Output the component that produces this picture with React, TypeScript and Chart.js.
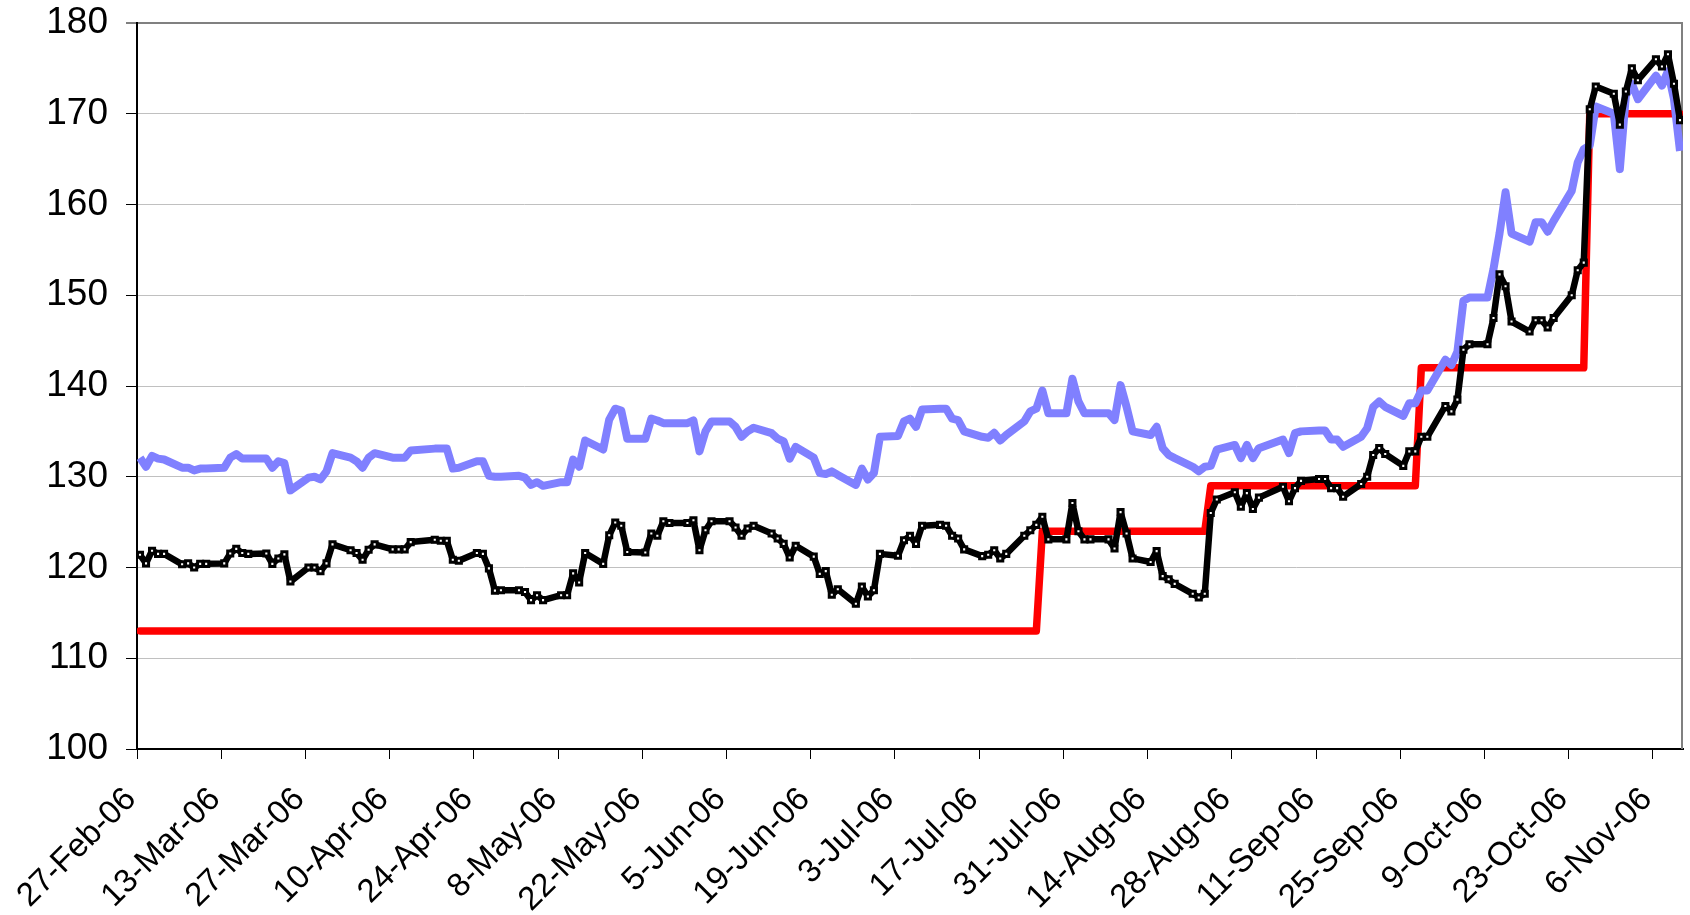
import React, { useEffect, useRef } from 'react';
import { Chart, registerables } from 'chart.js';

Chart.register(...registerables);

// X-axis tick labels (one every 14 calendar days, starting 27-Feb-06)
const tickLabels = [
  '27-Feb-06', '13-Mar-06', '27-Mar-06', '10-Apr-06', '24-Apr-06', '8-May-06',
  '22-May-06', '5-Jun-06', '19-Jun-06', '3-Jul-06', '17-Jul-06', '31-Jul-06',
  '14-Aug-06', '28-Aug-06', '11-Sep-06', '25-Sep-06', '9-Oct-06', '23-Oct-06', '6-Nov-06',
];
const TICK_STEP_DAYS = 14;
const AXIS_DAYS = 257; // 27-Feb-06 .. 10-Nov-06 inclusive
const WEEKS = 37;

// Business-day series (Mon..Fri per week, from 27-Feb-06); null = market holiday
const blackSeries: (number | null)[] = [
  121.4, 120.45, 121.85, 121.5, 121.5,
  120.35, 120.45, 120.0, 120.4, 120.4,
  120.45, 121.55, 122.05, 121.6, 121.5,
  121.55, 120.4, 121.0, 121.45, 118.45,
  120.0, 120.0, 119.6, 120.45, 122.55,
  121.9, 121.6, 120.85, 121.95, 122.55,
  122.0, 122.0, 122.0, 122.8, null,
  123.05, 122.95, 122.95, 120.85, 120.75,
  121.6, 121.5, 119.9, 117.45, 117.5,
  117.5, 117.3, 116.4, 116.95, 116.4,
  116.95, 116.95, 119.35, 118.35, 121.6,
  120.4, 123.55, 124.95, 124.6, 121.7,
  121.65, 123.75, 123.5, 125.1, 124.9,
  124.9, 125.2, 121.9, 124.1, 125.1,
  125.1, 124.4, 123.5, 124.3, 124.6,
  123.75, 123.2, 122.6, 121.1, 122.4,
  121.2, 119.3, 119.6, 117.0, 117.6,
  116.0, 117.9, 116.8, 117.5, 121.5,
  121.3, 123.0, 123.5, 122.6, 124.6,
  124.7, 124.6, 123.5, 123.2, 122.0,
  121.25, 121.4, 121.9, 121.0, 121.5,
  123.5, 124.1, 124.7, 125.6, 123.1,
  123.1, 127.1, 124.0, 123.1, 123.1,
  123.1, 122.1, 126.1, 123.75, 121.0,
  120.6, 121.8, 119.05, 118.7, 118.2,
  117.1, 116.7, 117.1, 126.0, 127.5,
  128.3, 126.7, 128.2, 126.45, 127.7,
  null, 128.9, 127.3, 128.75, 129.55,
  129.75, 129.75, 128.75, 128.75, 127.8,
  129.2, 130.0, 132.4, 133.15, 132.5,
  131.2, 132.8, 132.8, 134.4, 134.4,
  137.8, 137.2, 138.5, 144.0, 144.6,
  144.6, 147.5, 152.3, 151.0, 147.1,
  146.0, 147.25, 147.25, 146.45, 147.5,
  150.0, 152.75, 153.6, 170.5, 173.0,
  172.2, 168.8, 172.45, 175.0, 173.7,
  176.0, 175.2, 176.55, 173.3, 169.3,
];

const blueSeries: (number | null)[] = [
  132.1, 131.1, 132.3, 132.0, 131.9,
  131.0, 131.0, 130.7, 130.9, 130.9,
  131.0, 132.1, 132.5, 132.0, 132.0,
  132.0, 131.0, 131.7, 131.5, 128.5,
  129.9, 130.0, 129.7, 130.6, 132.6,
  132.1, 131.7, 131.0, 132.1, 132.6,
  132.1, 132.1, 132.1, 132.9, null,
  133.1, 133.1, 133.1, 130.9, 131.0,
  131.7, 131.7, 130.1, 130.0, 130.0,
  130.1, 129.9, 129.1, 129.4, 129.0,
  129.4, 129.4, 131.9, 131.1, 134.0,
  133.0, 136.3, 137.5, 137.3, 134.2,
  134.2, 136.4, 136.2, 135.9, 135.9,
  135.9, 136.2, 132.8, 135.0, 136.1,
  136.1, 135.5, 134.4, 135.0, 135.4,
  134.8, 134.2, 133.9, 132.0, 133.3,
  132.1, 130.4, 130.3, 130.6, 130.2,
  129.1, 130.9, 129.7, 130.4, 134.4,
  134.5, 136.1, 136.4, 135.5, 137.4,
  137.5, 137.5, 136.4, 136.25, 135.0,
  134.4, 134.3, 134.85, 134.0, 134.6,
  136.1, 137.2, 137.5, 139.5, 137.0,
  137.0, 140.8, 138.3, 137.0, 137.0,
  137.0, 136.25, 140.1, 137.7, 135.0,
  134.6, 135.5, 133.15, 132.4, 132.05,
  131.1, 130.6, 131.1, 131.2, 133.0,
  133.5, 132.05, 133.5, 132.05, 133.15,
  null, 134.1, 132.6, 134.8, 135.0,
  135.1, 135.1, 134.1, 134.1, 133.3,
  134.4, 135.35, 137.7, 138.3, 137.7,
  136.7, 138.1, 138.1, 139.5, 139.5,
  142.9, 142.3, 143.8, 149.4, 149.75,
  149.75, 152.9, 156.8, 161.35, 156.8,
  155.9, 158.05, 158.05, 157.0, 158.2,
  161.5, 164.65, 166.1, 166.5, 170.8,
  170.0, 163.9, 172.0, 173.3, 171.6,
  174.2, 173.1, 174.7, 171.6, 165.9,
];

// Step series: calendar-day offsets from 27-Feb-06 and levels
const redDays = [0, 149, 150, 177, 178, 212, 213, 240, 241, 256];
const redValues = [113, 113, 124, 124, 129, 129, 142, 142, 170, 170];

const FONT = "'Liberation Sans', Arial, Helvetica, sans-serif";

// business-day calendar offsets (Mon..Fri)
const businessDays: number[] = [];
for (let w = 0; w < WEEKS; w++) {
  for (let k = 0; k < 5; k++) {
    const d = w * 7 + k;
    if (d < AXIS_DAYS) businessDays.push(d);
  }
}

const toPoints = (vals: (number | null)[]) =>
  businessDays.map((d, i) => ({ x: d + 0.5, y: vals[i] ?? null }));

export default function App() {
  const ref = useRef<HTMLCanvasElement | null>(null);

  useEffect(() => {
    document.body.style.margin = '0';
    const canvas = ref.current;
    if (!canvas) return;

    const borderPlugin = {
      id: 'plotBorder',
      beforeDatasetsDraw(chart: any) {
        const { ctx, chartArea } = chart;
        ctx.save();
        ctx.strokeStyle = '#808080';
        ctx.lineWidth = 2;
        ctx.beginPath();
        ctx.moveTo(chartArea.right - 1, chartArea.top);
        ctx.lineTo(chartArea.right - 1, chartArea.bottom);
        ctx.stroke();
        ctx.restore();
      },
    };

    const chart = new Chart(canvas, {
      type: 'line',
      data: {
        datasets: [
          {
            label: 'black',
            data: toPoints(blackSeries) as any,
            borderColor: '#000000',
            borderWidth: 6.5,
            borderJoinStyle: 'round',
            borderCapStyle: 'round',
            pointStyle: 'rect',
            pointRadius: 3.6,
            pointBorderWidth: 3,
            pointBackgroundColor: '#ffffff',
            pointBorderColor: '#000000',
            spanGaps: true,
            tension: 0,
          },
          {
            label: 'blue',
            data: toPoints(blueSeries) as any,
            borderColor: 'rgb(128,128,255)',
            borderWidth: 8,
            borderJoinStyle: 'round',
            borderCapStyle: 'butt',
            pointRadius: 0,
            spanGaps: true,
            tension: 0,
          },
          {
            label: 'red',
            data: redDays.map((d, i) => ({ x: d + 0.5, y: redValues[i] })) as any,
            borderColor: '#ff0000',
            borderWidth: 7.5,
            borderJoinStyle: 'round',
            borderCapStyle: 'round',
            pointRadius: 0,
            tension: 0,
          },
        ],
      },
      options: {
        animation: false,
        responsive: false,
        devicePixelRatio: 1,
        layout: { padding: { top: 23, right: 0, bottom: 0, left: 0 } },
        plugins: {
          legend: { display: false },
          tooltip: { enabled: false },
        },
        scales: {
          x: {
            type: 'linear',
            min: 0,
            max: AXIS_DAYS,
            afterBuildTicks: (scale: any) => {
              scale.ticks = tickLabels.map((_, i) => ({ value: i * TICK_STEP_DAYS }));
            },
            afterFit: (scale: any) => {
              scale.height = 166;
              scale.paddingLeft = 0;
              scale.paddingRight = 0;
            },
            ticks: {
              autoSkip: false,
              minRotation: 45,
              maxRotation: 45,
              padding: 21,
              labelOffset: -6,
              color: '#000',
              font: { family: FONT, size: 33 },
              callback: (_v: any, i: number) => tickLabels[i],
            },
            grid: {
              drawOnChartArea: false,
              drawTicks: true,
              tickLength: 10,
              tickColor: '#000',
              tickWidth: 1,
            },
            border: { color: '#000', width: 2 },
          },
          y: {
            min: 100,
            max: 180,
            afterFit: (scale: any) => {
              scale.width = 137;
              scale.paddingTop = 0;
              scale.paddingBottom = 0;
            },
            ticks: {
              stepSize: 10,
              padding: 18,
              color: '#000',
              font: { family: FONT, size: 37 },
            },
            grid: {
              color: (c: any) => (c.tick && c.tick.value === 180 ? '#808080' : '#c0c0c0'),
              lineWidth: (c: any) => (c.tick && c.tick.value === 180 ? 2 : 1),
              tickColor: '#000',
              tickLength: 11,
              tickWidth: 1,
            },
            border: { color: '#000', width: 2 },
          },
        },
      },
      plugins: [borderPlugin],
    });

    return () => chart.destroy();
  }, []);

  return (
    <div style={{ width: 1690, height: 915, background: '#fff' }}>
      <canvas ref={ref} width={1690} height={915} style={{ display: 'block' }} />
    </div>
  );
}
